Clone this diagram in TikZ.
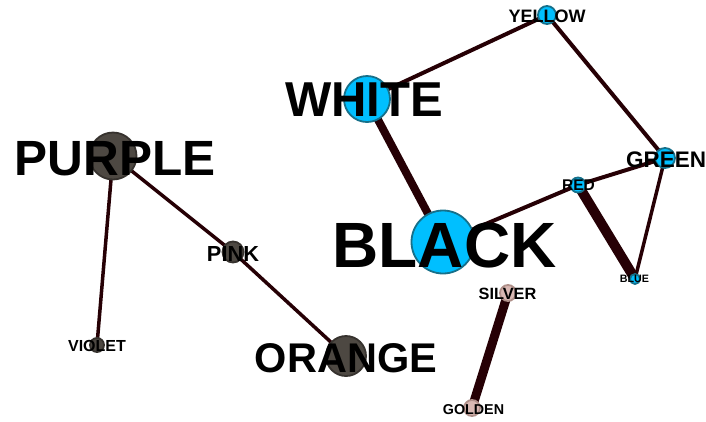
\documentclass[tikz,border=0pt]{standalone}
\usepackage{fontspec}
\setmainfont{Liberation Sans}
\pgfdeclarelayer{bg}
\pgfdeclarelayer{paper}
\pgfsetlayers{paper,bg,main}
\definecolor{edgec}{HTML}{260005}
\definecolor{cyanf}{HTML}{00BFFF}
\definecolor{cyand}{HTML}{16708A}
\definecolor{grayf}{HTML}{4D4842}
\definecolor{grayd}{HTML}{36322E}
\definecolor{pinkf}{HTML}{D9B8B3}
\definecolor{pinkd}{HTML}{B0908A}
\tikzset{
  vtx/.style={circle, inner sep=0pt, line width=1.8pt},
  bluev/.style={vtx, fill=cyanf, draw=cyand},
  grayv/.style={vtx, fill=grayf, draw=grayd},
  pinkv/.style={vtx, fill=pinkf, draw=pinkd},
  lbl/.style={inner sep=0pt, anchor=center, text=black, font=\bfseries},
  edge/.style={draw=edgec, line cap=butt}
}
\newcommand{\fs}[1]{\fontsize{#1}{#1}\selectfont}
\begin{document}
\begin{tikzpicture}[x=1pt,y=-1pt]
\begin{pgfonlayer}{paper}
\fill[white] (0,0) rectangle (706,421);
\end{pgfonlayer}
\useasboundingbox (0,0) rectangle (706,421);
% vertices
\node[bluev, minimum size=18pt] (yellow) at (547,15) {};
\node[bluev, minimum size=46pt] (white) at (367,99) {};
\node[bluev, minimum size=20pt] (green) at (665,158) {};
\node[bluev, minimum size=15pt] (red) at (578,185) {};
\node[bluev, minimum size=10pt] (blue) at (635,279) {};
\node[bluev, minimum size=63pt] (black) at (443,242) {};
\node[pinkv, minimum size=16pt] (silver) at (508,293) {};
\node[pinkv, minimum size=16pt] (golden) at (472,408) {};
\node[grayv, minimum size=47pt] (purple) at (113,156) {};
\node[grayv, minimum size=21pt] (pink) at (233,252) {};
\node[grayv, minimum size=14pt] (violet) at (97,345) {};
\node[grayv, minimum size=40pt] (orange) at (346,356) {};
% edges
\begin{pgfonlayer}{bg}
\draw[edge, line width=4pt] (white.center) -- (yellow.center);
\draw[edge, line width=4pt] (yellow.center) -- (green.center);
\draw[edge, line width=8pt] (white.center) -- (black.center);
\draw[edge, line width=4pt] (black.center) -- (red.center);
\draw[edge, line width=4pt] (red.center) -- (green.center);
\draw[edge, line width=10pt] (red.center) -- (blue.center);
\draw[edge, line width=3.5pt] (green.center) -- (blue.center);
\draw[edge, line width=9pt] (silver.center) -- (golden.center);
\draw[edge, line width=3.5pt] (purple.center) -- (violet.center);
\draw[edge, line width=3.5pt] (purple.center) -- (pink.center);
\draw[edge, line width=3.5pt] (pink.center) -- (orange.center);
\end{pgfonlayer}
% labels
\node[lbl, font=\bfseries\fs{18}] (yellowL) at (547,16) {YELLOW};
\node[lbl, font=\bfseries\fs{49}] (whiteL) at (364,100) {WHITE};
\node[lbl, font=\bfseries\fs{22.5}] (greenL) at (666,160) {GREEN};
\node[lbl, font=\bfseries\fs{15.5}] (redL) at (578.5,185) {RED};
\node[lbl, font=\bfseries\fs{10.7}] (blueL) at (634.5,279) {BLUE};
\node[lbl, font=\bfseries\fs{64}] (blackL) at (444.5,245) {BLACK};
\node[lbl, font=\bfseries\fs{16.3}] (silverL) at (507.5,294) {SILVER};
\node[lbl, font=\bfseries\fs{14.3}] (goldenL) at (473.5,410) {GOLDEN};
\node[lbl, font=\bfseries\fs{49.5}] (purpleL) at (115,158.5) {PURPLE};
\node[lbl, font=\bfseries\fs{21.8}] (pinkL) at (233,254) {PINK};
\node[lbl, font=\bfseries\fs{16}] (violetL) at (97,346) {VIOLET};
\node[lbl, font=\bfseries\fs{41.5}] (orangeL) at (346,358) {ORANGE};
\end{tikzpicture}
\end{document}
